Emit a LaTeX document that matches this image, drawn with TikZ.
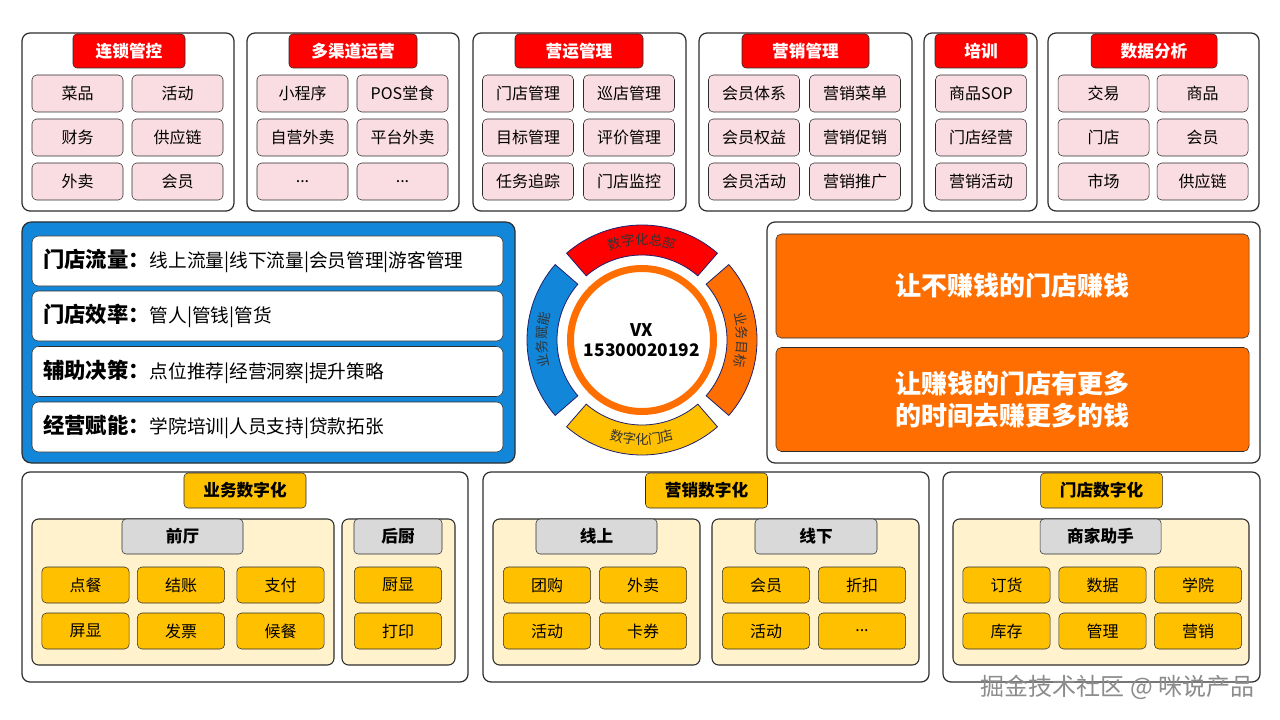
\documentclass[tikz,border=0pt]{standalone}
\usepackage{fontspec}
\setmainfont{Noto Sans CJK SC}
\usepackage{tikz}
\usetikzlibrary{positioning, decorations.text}

\definecolor{hdred}{RGB}{255,0,0}
\definecolor{itpink}{RGB}{250,221,226}
\definecolor{pnblue}{RGB}{18,134,216}
\definecolor{pnorange}{RGB}{255,110,0}
\definecolor{dgyellow}{RGB}{255,192,0}
\definecolor{subyellow}{RGB}{255,242,204}
\definecolor{hdgray}{RGB}{217,217,217}
\definecolor{edge}{RGB}{45,45,45}
\newcommand{\moredots}{...}
\newcommand{\rowlabel}[1]{{\bfseries\fontsize{16}{18}\selectfont #1}}

\begin{document}
\begin{tikzpicture}[x=0.75pt,y=-0.75pt,
  panel/.style={draw=edge,line width=0.9pt,rounded corners=6pt,fill=white},
  subpanel/.style={draw=edge,line width=0.8pt,rounded corners=5pt,fill=subyellow},
  redtitle/.style={draw=edge,fill=hdred,rounded corners=3pt,text=white,
    font=\bfseries\fontsize{12.5}{14}\selectfont,minimum height=25.5pt,inner sep=0pt},
  pinkitem/.style={draw=edge,fill=itpink,rounded corners=3.5pt,minimum width=68.25pt,
    minimum height=27.75pt,inner sep=0pt,font=\fontsize{12}{14}\selectfont},
  rowbox/.style={draw=edge,fill=white,rounded corners=5pt,minimum height=37.5pt,
    text width=336.75pt,inner xsep=8.25pt,align=left,font=\fontsize{14}{16}\selectfont},
  goalbox/.style={draw=edge,fill=pnorange,rounded corners=4pt,minimum width=354.75pt,
    minimum height=78pt,text=white,align=center,font=\bfseries\fontsize{19.5}{23.5}\selectfont},
  segline/.style={draw=edge!70!blue,line width=0.6pt},
  segtext/.style={decorate,decoration={text along path,text align=center,
    text={|\fontsize{10}{12}\selectfont\color{black!80}|#1}}},
  ytitle/.style={draw=edge,fill=dgyellow,rounded corners=3pt,minimum width=91.5pt,
    minimum height=26.25pt,inner sep=0pt,font=\bfseries\fontsize{12.5}{14}\selectfont},
  grayhead/.style={draw=edge,fill=hdgray,rounded corners=3pt,minimum height=26.25pt,
    inner sep=0pt,font=\bfseries\fontsize{12.5}{14}\selectfont},
  yitem/.style={draw=edge,fill=dgyellow,rounded corners=3.5pt,minimum width=65.5pt,
    minimum height=27pt,inner sep=0pt,font=\fontsize{12}{14}\selectfont}]

  \useasboundingbox (0,0) rectangle (1280,720);
  \fill[white] (0,0) rectangle (1280,720);

  % top row
  \draw[panel] (22,33) rectangle (234,211);
  \draw[panel] (247,33) rectangle (459,211);
  \draw[panel] (473,33) rectangle (686,211);
  \draw[panel] (699,33) rectangle (912,211);
  \draw[panel] (924,33) rectangle (1037,211);
  \draw[panel] (1048,33) rectangle (1259,211);

  \foreach \cx/\bw/\txt [count=\i] in {129/84/连锁管控, 353/96/多渠道运营, 579/96/营运管理,
      805.5/95.25/营销管理, 981/69/培训, 1154/94.5/数据分析}
    \node[redtitle,minimum width=\bw pt] (top\i) at (\cx,51) {\txt};

  \foreach \cx/\cy/\txt [count=\i] in {
      77.5/93.5/菜品, 177.5/93.5/活动, 77.5/137.5/财务, 177.5/137.5/供应链, 77.5/181.5/外卖, 177.5/181.5/会员,
      302.5/93.5/小程序, 402.5/93.5/POS堂食, 302.5/137.5/自营外卖, 402.5/137.5/平台外卖, 302.5/181.5/\moredots, 402.5/181.5/\moredots,
      528/93.5/门店管理, 629/93.5/巡店管理, 528/137.5/目标管理, 629/137.5/评价管理, 528/181.5/任务追踪, 629/181.5/门店监控,
      754/93.5/会员体系, 855/93.5/营销菜单, 754/137.5/会员权益, 855/137.5/营销促销, 754/181.5/会员活动, 855/181.5/营销推广,
      981/93.5/商品SOP, 981/137.5/门店经营, 981/181.5/营销活动,
      1103.5/93.5/交易, 1202.5/93.5/商品, 1103.5/137.5/门店, 1202.5/137.5/会员, 1103.5/181.5/市场, 1202.5/181.5/供应链}
    \node[pinkitem] (mod\i) at (\cx,\cy) {\txt};

  % middle: value panel
  \draw[draw=edge,line width=0.9pt,fill=pnblue,rounded corners=7pt] (22,222) rectangle (515,463);
  \node[rowbox] (flow) at (267.5,261) {\rowlabel{门店流量：}线上流量|线下流量|会员管理|游客管理};
  \node[rowbox] (effic) at (267.5,316) {\rowlabel{门店效率：}管人|管钱|管货};
  \node[rowbox] (decide) at (267.5,371.5) {\rowlabel{辅助决策：}点位推荐|经营洞察|提升策略};
  \node[rowbox] (enable) at (267.5,427) {\rowlabel{经营赋能：}学院培训|人员支持|贷款拓张};

  % middle: ring
  \draw[pnorange,line width=5.25pt] (642,340) circle[radius=71.5];
  \node[font=\bfseries\fontsize{13}{15}\selectfont,align=center] (vx) at (642,340) {VX\\15300020192};
  \begin{scope}[shift={(642,340)},y=0.75pt]
    \draw[segline,fill=hdred] (49:115) arc[start angle=49,end angle=131,radius=115]
      -- (131:85) arc[start angle=131,end angle=49,radius=85] -- cycle;
    \draw[segline,fill=pnblue] (139:115) arc[start angle=139,end angle=221,radius=115]
      -- (221:85) arc[start angle=221,end angle=139,radius=85] -- cycle;
    \draw[segline,fill=dgyellow] (229:115) arc[start angle=229,end angle=311,radius=115]
      -- (311:85) arc[start angle=311,end angle=229,radius=85] -- cycle;
    \draw[segline,fill=pnorange] (-41:115) arc[start angle=-41,end angle=41,radius=115]
      -- (41:85) arc[start angle=41,end angle=-41,radius=85] -- cycle;
    \path[segtext=数字化总部] (135:95.5) arc[start angle=135,end angle=45,radius=95.5];
    \path[segtext=业务目标] (45:95.5) arc[start angle=45,end angle=-45,radius=95.5];
    \path[segtext=业务赋能] (225:95.5) arc[start angle=225,end angle=135,radius=95.5];
    \path[segtext=数字化门店] (225:104.5) arc[start angle=225,end angle=315,radius=104.5];
  \end{scope}

  % middle: goals
  \draw[panel] (767,222) rectangle (1260,463);
  \node[goalbox] (goal1) at (1012.5,286) {让不赚钱的门店赚钱};
  \node[goalbox] (goal2) at (1012.5,399.5) {让赚钱的门店有更多\\的时间去赚更多的钱};

  % bottom row
  \draw[panel] (22,472) rectangle (468,682);
  \draw[panel] (483,472) rectangle (929,682);
  \draw[panel] (943,472) rectangle (1260,682);
  \draw[subpanel] (32,519) rectangle (334,665);
  \draw[subpanel] (342,519) rectangle (455,665);
  \draw[subpanel] (493,519) rectangle (700,665);
  \draw[subpanel] (712,519) rectangle (919,665);
  \draw[subpanel] (953,519) rectangle (1249,665);

  \node[ytitle] (biz) at (245,490.5) {业务数字化};
  \node[ytitle] (mkt) at (706.5,490.5) {营销数字化};
  \node[ytitle] (store) at (1101.5,490.5) {门店数字化};

  \foreach \cx/\bw/\txt [count=\i] in {182.5/90.75/前厅, 398/66/后厨, 596.5/90.75/线上,
      816/91.5/线下, 1100.5/90.75/商家助手}
    \node[grayhead,minimum width=\bw pt] (head\i) at (\cx,536.5) {\txt};

  \foreach \cx/\cy/\txt [count=\i] in {
      85.5/585/点餐, 181/585/结账, 280.5/585/支付, 85.5/631/屏显, 181/631/发票, 280.5/631/候餐,
      398/585/厨显, 398/631/打印,
      547/585/团购, 643/585/外卖, 547/631/活动, 643/631/卡券,
      766/585/会员, 862/585/折扣, 766/631/活动, 862/631/\moredots,
      1006.5/585/订货, 1102.5/585/数据, 1198/585/学院, 1006.5/631/库存, 1102.5/631/管理, 1198/631/营销}
    \node[yitem] (dig\i) at (\cx,\cy) {\txt};

  \node[text=black!45,font=\fontsize{18}{20}\selectfont,anchor=east] (mark) at (1259,687) {掘金技术社区 @ 咪说产品};
\end{tikzpicture}
\end{document}
